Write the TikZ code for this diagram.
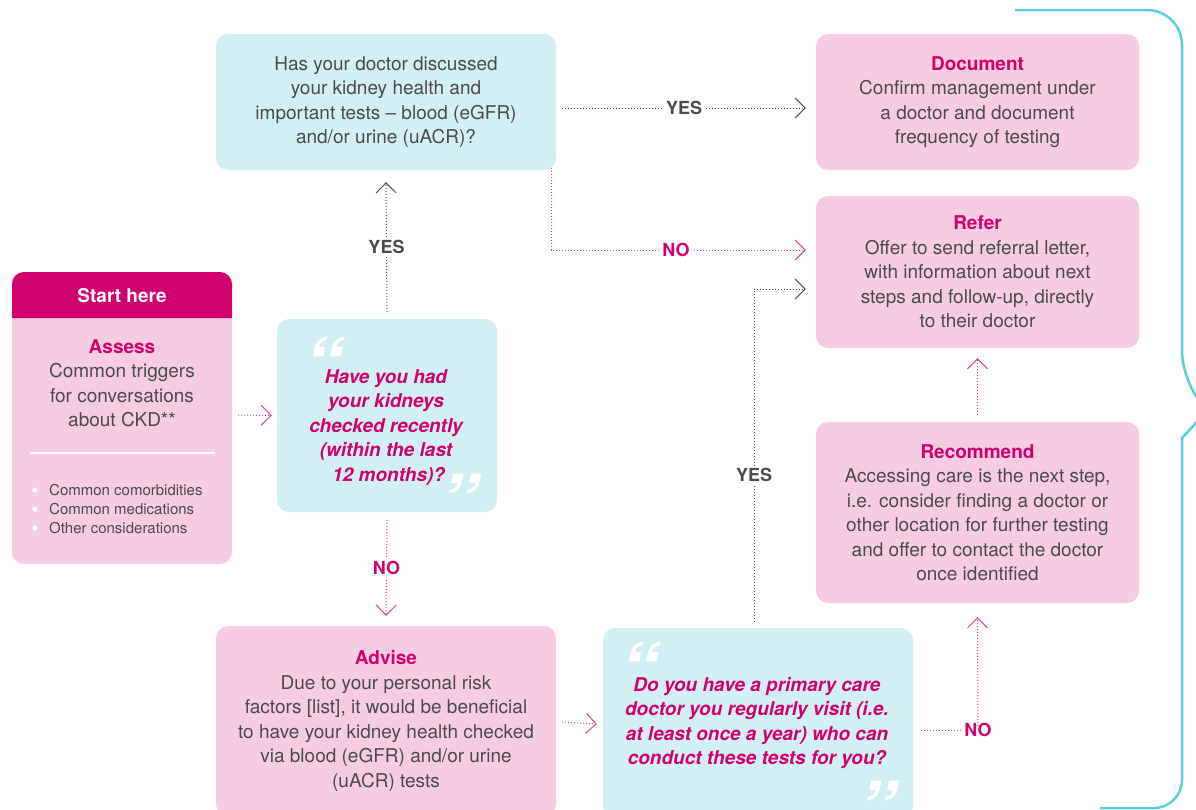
\documentclass[tikz,border=0pt]{standalone}
\usepackage{fontspec}
\setmainfont{TeX Gyre Heros}
\usetikzlibrary{arrows.meta}
\definecolor{txt}{HTML}{4B4B4D}
\definecolor{mag}{HTML}{D1006F}
\definecolor{magline}{HTML}{E0408E}
\definecolor{pinkfill}{HTML}{F5CCE1}
\definecolor{cyanfill}{HTML}{D2EFF3}
\definecolor{bracecol}{HTML}{5CCBDC}
\definecolor{grayline}{HTML}{505050}
\tikzset{
  box/.style={rounded corners=12pt, draw=none, inner sep=0pt, align=center, text=txt,
    font=\fontsize{19}{24.5}\selectfont},
  pinkbox/.style={box, fill=pinkfill},
  cyanbox/.style={box, fill=cyanfill},
  quest/.style={font=\fontsize{19}{24.5}\selectfont\bfseries\itshape, text=mag, align=center},
  quot/.style={font=\fontsize{76}{76}\selectfont\bfseries\itshape, text=white, inner sep=0pt, anchor=north},
  graydot/.style={draw=grayline, line width=1pt, dash pattern=on 1pt off 2pt},
  magdot/.style={draw=magline, line width=1pt, dash pattern=on 1pt off 2pt},
  chev/.style={-{Straight Barb[length=10pt,width=20pt,line width=1pt]}},
  graychev/.style={graydot, chev},
  magchev/.style={magdot, chev},
  lblgray/.style={font=\fontsize{18}{18}\selectfont\bfseries, text=txt, fill=white, inner sep=3pt},
  lblmag/.style={font=\fontsize{18}{18}\selectfont\bfseries, text=mag, fill=white, inner sep=3pt}
}
\newcommand{\ttlm}[1]{{\color{mag}\bfseries #1}}
\begin{document}
\begin{tikzpicture}[x=1pt,y=-1pt]
\useasboundingbox (0,0) rectangle (1196,809);
\clip (0,0) rectangle (1196,809);

% brace
\draw[bracecol, line width=2.5pt] (1015,10) [rounded corners=35pt] -- (1182,10) -- (1182,386) [sharp corners] -- (1207,411) -- (1182,438) [rounded corners=28pt] -- (1182,808) -- (1100,808);

% boxes
\node[cyanbox, minimum width=340, minimum height=136] (q1) at (386,102)
  {Has your doctor discussed\\ your kidney health and\\ important tests -- blood (eGFR)\\ and/or urine (uACR)?};
\node[pinkbox, minimum width=323, minimum height=136] (doc) at (977.5,102)
  {\ttlm{Document}\\ Confirm management under\\ a doctor and document\\ frequency of testing};
\node[pinkbox, minimum width=323, minimum height=152] (refer) at (977.5,272)
  {\ttlm{Refer}\\ Offer to send referral letter,\\ with information about next\\ steps and follow-up, directly\\ to their doctor};
\node[pinkbox, minimum width=323, minimum height=181] (rec) at (977.5,512.5)
  {\ttlm{Recommend}\\ Accessing care is the next step,\\ i.e. consider finding a doctor or\\ other location for further testing\\ and offer to contact the doctor\\ once identified};
\node[pinkbox, minimum width=340, minimum height=190] (adv) at (386,721)
  {\ttlm{Advise}\\ Due to your personal risk\\ factors [list], it would be beneficial\\ to have your kidney health checked\\ via blood (eGFR) and/or urine\\ (uACR) tests};

% start box
\node[pinkbox, minimum width=220, minimum height=292] (start) at (122,418) {};
\fill[mag] (12,318) [rounded corners=12pt] -- (12,272) -- (232,272) [sharp corners] -- (232,318) -- cycle;
\node[font=\fontsize{19}{19}\selectfont\bfseries, text=white] (sh) at (122,296) {Start here};
\node[box] (assess) at (122,383) {\ttlm{Assess}\\ Common triggers\\ for conversations\\ about CKD**};
\draw[white, line width=2pt] (30,453) -- (215,453);
\foreach \yy/\tt in {490/Common comorbidities,509/Common medications,528/Other considerations}{
  \fill[white] (35,\yy) circle (2.6pt);
  \node[anchor=west, text=txt, font=\fontsize{15}{15}\selectfont, inner sep=0pt] at (49,\yy) {\tt};
}

% question boxes
\node[cyanbox, minimum width=220, minimum height=193] (q2) at (387,415.5) {};
\node[quest] (q2t) at (386,427) {Have you had\\ your kidneys\\ checked recently\\ (within the last\\ \hphantom{i}12 months)?};
\node[quot] (q2o) at (322,337) {``};
\node[quot] (q2c) at (458,474) {''};

\node[cyanbox, minimum width=310, minimum height=190] (q3) at (758,723) {};
\node[quest] (q3t) at (757,723) {Do you have a primary care\\ doctor you regularly visit (i.e.\\ at least once a year) who can\\ conduct these tests for you?};
\node[quot] (q3o) at (638,642) {``};
\node[quot] (q3c) at (876,781) {''};

% connectors
\draw[magchev] ([xshift=6pt,yshift=3pt]start.east) -- ([xshift=-5pt,yshift=0pt]q2.west);

\draw[graychev] ([yshift=7pt]q2.north) -- node[lblgray, pos=0.5] (yes1) {YES} ([yshift=-12pt]q1.south);
\draw[magchev] ([yshift=-8pt]q2.south) -- node[lblmag, pos=0.5] (no1) {NO} ([yshift=10pt]adv.north);

\draw[graychev] ([xshift=6pt,yshift=-6pt]q1.east) -- node[lblgray, pos=0.5] (yes2) {YES} ([xshift=-10pt,yshift=-6pt]doc.west);
\draw[magchev] ([xshift=-5pt,yshift=2pt]q1.south east) |- node[lblmag, pos=0.745] (no2) {NO} ([xshift=-10pt,yshift=22pt]refer.west);

\draw[graychev] ([xshift=-4pt,yshift=6pt]q3.north) |- node[lblgray, pos=0.22] (yes3) {YES} ([xshift=-10pt,yshift=-17pt]refer.west);

\draw[magchev] ([xshift=6pt,yshift=-1pt]adv.east) -- ([xshift=-6pt,yshift=-1pt]q3.west);

\node[font=\fontsize{18}{18}\selectfont\bfseries, text=mag, inner sep=0pt] (no3) at (978,730) {NO};
\draw[magdot] ([xshift=8pt,yshift=-7pt]q3.east) -- ([xshift=-3pt]no3.west);
\draw[magchev] ([yshift=-6pt]no3.north) -- ([yshift=-14pt]rec.south);

\draw[magchev] ([yshift=7pt]rec.north) -- ([yshift=-10pt]refer.south);
\end{tikzpicture}
\end{document}
